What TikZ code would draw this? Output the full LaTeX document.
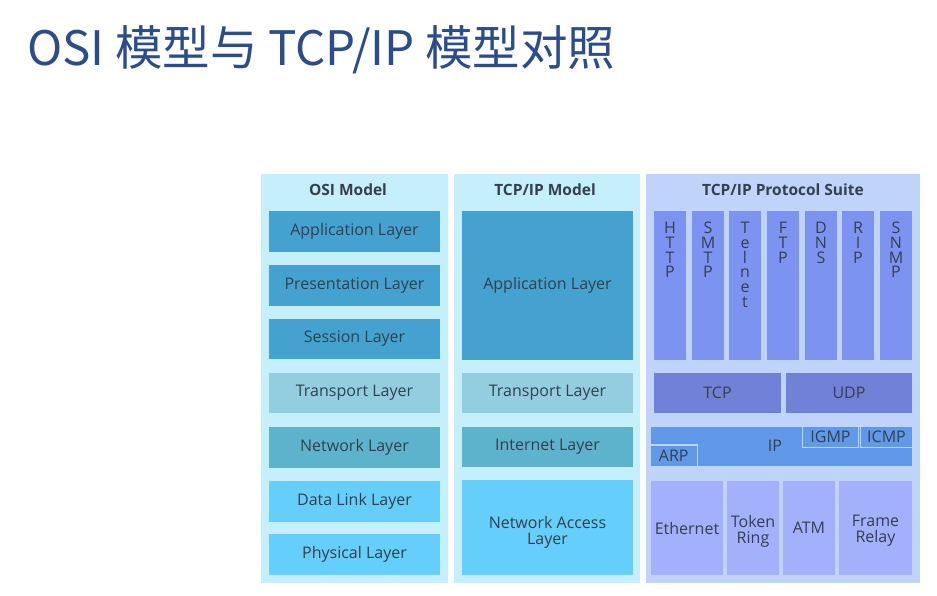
\documentclass[tikz,border=0pt]{standalone}
\usepackage{fontspec}
\setmainfont{Open Sans}
\newfontfamily\cjk{Noto Sans CJK SC}
\definecolor{titlec}{HTML}{2B4D8C}
\definecolor{txtc}{HTML}{34404C}
\definecolor{cyanbg}{HTML}{C6EFFC}
\definecolor{suitebg}{HTML}{BFD3FB}
\definecolor{appc}{HTML}{45A2D0}
\definecolor{transc}{HTML}{93CEE0}
\definecolor{netc}{HTML}{5DB3CB}
\definecolor{dlc}{HTML}{66CEFA}
\definecolor{protc}{HTML}{7D93F2}
\definecolor{tcpc}{HTML}{7181D8}
\definecolor{ipc}{HTML}{6199E8}
\definecolor{nac}{HTML}{A3B0FC}
\tikzset{
  panel/.style={anchor=north west, inner sep=0pt, outer sep=0pt},
  lbox/.style={anchor=north west, inner sep=0pt, outer sep=0pt, text=txtc,
    font=\fontsize{16}{16}\selectfont, align=center},
  head/.style={anchor=base, inner sep=0pt, text=txtc, font=\bfseries\fontsize{15.5}{17}\selectfont},
  vtxt/.style={anchor=north, inner sep=0pt, text=txtc, align=center,
    font=\fontsize{16}{14.7}\selectfont},
  ptxt/.style={inner sep=0pt, text=txtc, font=\fontsize{16}{16}\selectfont, align=center},
}
\begin{document}
\begin{tikzpicture}[x=1pt,y=-1pt]
\useasboundingbox[fill=white] (0,0) rectangle (937,595);
\node[anchor=base west, inner sep=0pt, text=titlec, font=\cjk\fontsize{47.5}{56}\selectfont] (title) at (27,65) {OSI 模型与 TCP/IP 模型对照};

% panels
\node[panel, fill=cyanbg, minimum width=187, minimum height=409] (osipanel) at (261,174) {};
\node[panel, fill=cyanbg, minimum width=186, minimum height=409] (tcppanel) at (454,174) {};
\node[panel, fill=suitebg, minimum width=274, minimum height=409] (suitepanel) at (646,174) {};
\node[head] (osih) at (348,195) {OSI Model};
\node[head] (tcph) at (545,195) {TCP/IP Model};
\node[head] (suiteh) at (783,195) {TCP/IP Protocol Suite};

% OSI layers
\node[lbox, fill=appc, minimum width=171, minimum height=41] (oapp) at (269,211) {Application Layer};
\node[lbox, fill=appc, minimum width=171, minimum height=41] (opres) at (269,265) {Presentation Layer};
\node[lbox, fill=appc, minimum width=171, minimum height=40] (osess) at (269,319) {Session Layer};
\node[lbox, fill=transc, minimum width=171, minimum height=40] (otrans) at (269,373) {Transport Layer};
\node[lbox, fill=netc, minimum width=171, minimum height=41] (onet) at (269,427) {Network Layer};
\node[lbox, fill=dlc, minimum width=171, minimum height=41] (odl) at (269,481) {Data Link Layer};
\node[lbox, fill=dlc, minimum width=171, minimum height=41] (ophys) at (269,534) {Physical Layer};

% TCP/IP model layers
\node[lbox, fill=appc, minimum width=171, minimum height=149] (tapp) at (462,211) {Application Layer};
\node[lbox, fill=transc, minimum width=171, minimum height=40] (ttrans) at (462,373) {Transport Layer};
\node[lbox, fill=netc, minimum width=171, minimum height=40] (tinet) at (462,427) {Internet Layer};
\node[lbox, fill=dlc, minimum width=171, minimum height=95] (tna) at (462,480) {};
\node[ptxt] (tnat) at ([yshift=-4.5pt]tna.center) {Network Access\\Layer};

% protocol columns
\foreach \x/\nm/\t in {654/http/H\\T\\T\\P, 692/smtp/S\\M\\T\\P, 729/telnet/T\\e\\l\\n\\e\\t,
  767/ftp/F\\T\\P, 805/dns/D\\N\\S, 842/rip/R\\I\\P, 880/snmp/S\\N\\M\\P}{
  \node[panel, fill=protc, minimum width=32, minimum height=149] (\nm) at (\x,211) {};
  \node[vtxt] (\nm t) at (\x+16,222) {\t};
}

% transport protocols
\node[lbox, fill=tcpc, minimum width=127, minimum height=40] (tcp) at (654,373) {TCP};
\node[lbox, fill=tcpc, minimum width=126, minimum height=40] (udp) at (786,373) {UDP};

% IP block
\node[panel, fill=ipc, minimum width=261, minimum height=39] (ip) at (651,427) {};
\node[ptxt] (iptxt) at (775,446) {IP};
\node[lbox, fill=ipc, draw=suitebg, line width=1.4pt, minimum width=47, minimum height=22] (arp) at (650.3,445) {ARP};
\node[lbox, fill=ipc, draw=suitebg, line width=1.4pt, minimum width=56, minimum height=21] (igmp) at (802.5,426.3) {IGMP};
\node[lbox, fill=ipc, draw=suitebg, line width=1.4pt, minimum width=52, minimum height=21] (icmp) at (860.5,426.3) {ICMP};

% network access protocols
\node[lbox, fill=nac, minimum width=72, minimum height=94] (eth) at (651,481) {Ethernet};
\node[lbox, fill=nac, minimum width=52, minimum height=94] (token) at (727,481) {};
\node[ptxt] (tokent) at ([yshift=-3pt]token.center) {Token\\Ring};
\node[lbox, fill=nac, minimum width=52, minimum height=94] (atm) at (783,481) {ATM};
\node[lbox, fill=nac, minimum width=73, minimum height=94] (frame) at (839,481) {};
\node[ptxt] (framet) at ([yshift=-3pt]frame.center) {Frame\\Relay};
\end{tikzpicture}
\end{document}
